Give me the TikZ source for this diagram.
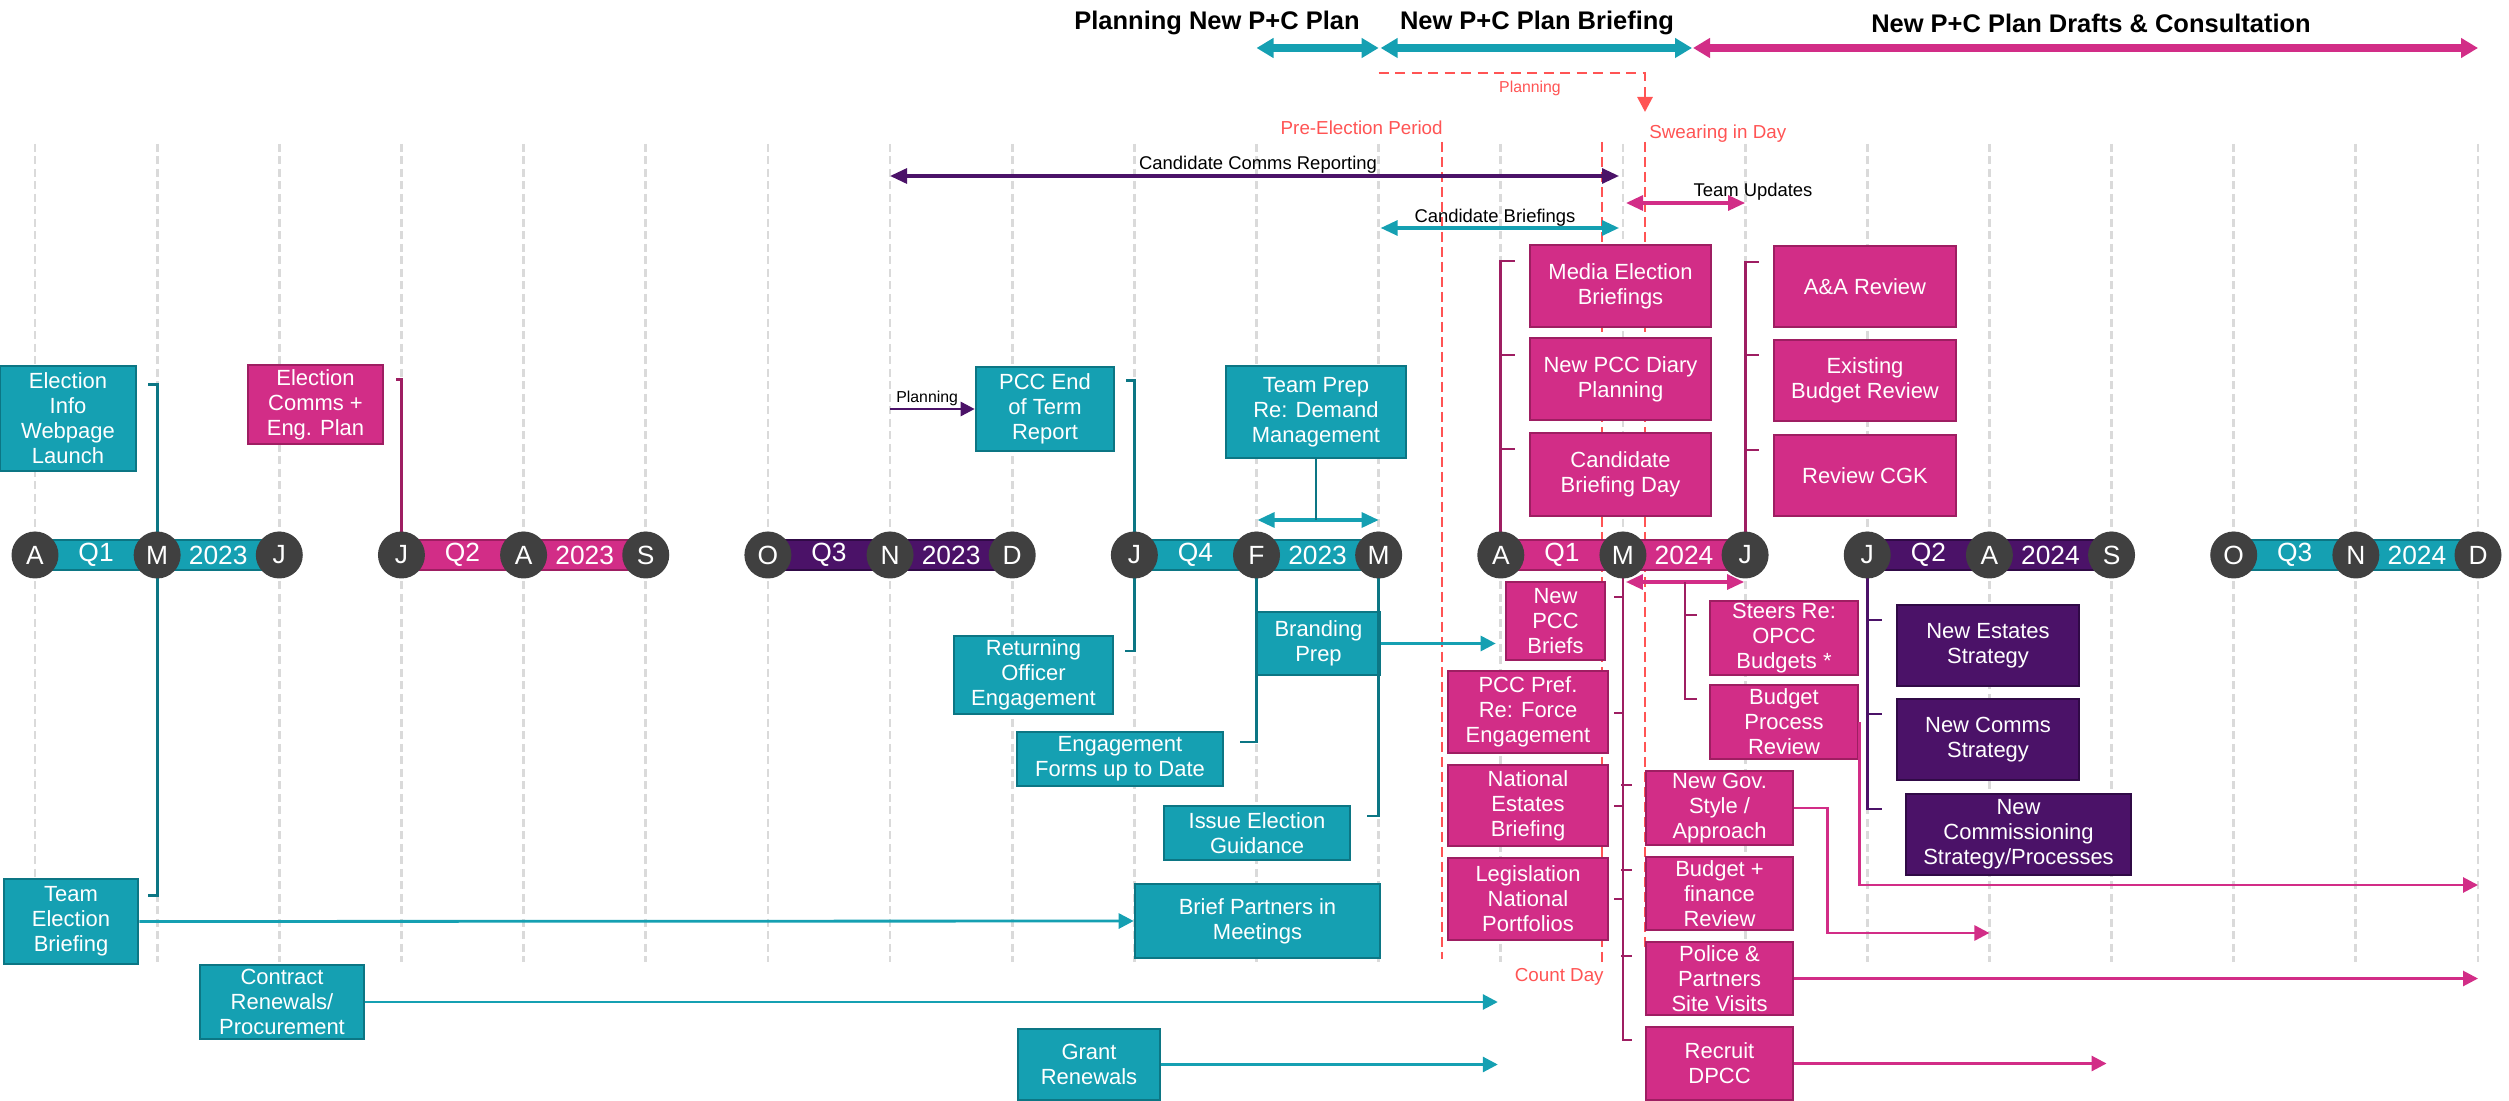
\documentclass[tikz,border=0pt]{standalone}
\usepackage{fontspec}
\setmainfont{Liberation Sans}
\usetikzlibrary{arrows.meta,calc}

\definecolor{tealc}{RGB}{21,160,178}
\definecolor{tealdk}{RGB}{12,118,132}
\definecolor{magc}{RGB}{210,45,135}
\definecolor{magdk}{RGB}{158,30,98}
\definecolor{purc}{RGB}{75,18,104}
\definecolor{purdk}{RGB}{48,10,70}
\definecolor{redc}{RGB}{255,84,84}
\definecolor{gridc}{RGB}{218,218,218}
\definecolor{circc}{RGB}{64,64,64}

\newcommand{\boxfont}{\fontsize{12.5}{14.2}\selectfont}
\newcommand{\lblfont}{\fontsize{10.5}{12}\selectfont}
\newcommand{\tinyfont}{\fontsize{9}{10}\selectfont}
\newcommand{\redfont}{\fontsize{10.7}{12}\selectfont}
\newcommand{\monthfont}{\fontsize{15}{17}\selectfont}
\newcommand{\headfont}{\fontsize{14.5}{17}\selectfont\bfseries}

\begin{document}
\begin{tikzpicture}[x=0.02cm,y=-0.02cm,
    tbox/.style={draw=tealdk,fill=tealc,line width=1.5pt,text=white,align=center,inner sep=0pt,font=\boxfont},
    mbox/.style={tbox,draw=magdk,fill=magc},
    pbox/.style={tbox,draw=purdk,fill=purc},
    tlink/.style={draw=tealdk,line width=1.6pt},
    mlink/.style={draw=magdk,line width=1.6pt},
    plink/.style={draw=purc,line width=1.6pt},
    tarr/.style={draw=tealc,line width=1.6pt,-{Triangle[length=0.3cm,width=0.3cm]}},
    marr/.style={draw=magc,line width=1.6pt,-{Triangle[length=0.3cm,width=0.3cm]}},
    parr/.style={draw=purc,line width=1.5pt,-{Triangle[length=0.28cm,width=0.28cm]}},
    spanarr/.style={line width=1.8pt,{Triangle[length=0.34cm,width=0.3cm]}-{Triangle[length=0.34cm,width=0.3cm]}},
    headarr/.style={line width=4pt,{Triangle[length=0.34cm,width=0.38cm]}-{Triangle[length=0.34cm,width=0.38cm]}},
    gridln/.style={draw=gridc,line width=1.6pt,dash pattern=on 0.16cm off 0.09cm},
    redln/.style={draw=redc,line width=1.6pt,dash pattern=on 0.2cm off 0.1cm},
    mcirc/.style={circle,fill=circc,minimum size=0.94cm,inner sep=0pt,text=white,font=\monthfont},
    barlbl/.style={text=white,font=\monthfont,inner sep=0pt},
    lbl/.style={font=\lblfont,inner sep=0pt},
    redlbl/.style={text=redc,font=\redfont,inner sep=0pt},
    htitle/.style={font=\headfont,inner sep=0pt}]

    \useasboundingbox (0,0) rectangle (2509,1101);

    % Months
    \foreach \m [count=\i from 0] in {apr23,may23,jun23,jul23,aug23,sep23,oct23,nov23,dec23,jan24,feb24,mar24,apr24,may24,jun24,jul24,aug24,sep24,oct24,nov24,dec24}
      \coordinate (\m) at ({35+122.15*\i},555);

    % Month grid
    \foreach \m in {apr23,may23,jun23,jul23,aug23,sep23,oct23,nov23,dec23,jan24,feb24,mar24,apr24,may24,jun24,jul24,aug24,sep24,oct24,nov24,dec24}
      \draw[gridln] (\m |- 0,144) -- (\m |- 0,962);

    % Election dates
    \draw[redln] (1442,142) -- (1442,959);
    \draw[redln] (1602,142) -- (1602,962);
    \draw[redln] (1645,142) -- (1645,950);
    \node[redlbl,anchor=base east] (prelbl) at (1443,135) {Pre-Election Period};
    \node[redlbl,anchor=base west] (swearlbl) at (1649,139) {Swearing in Day};
    \node[redlbl,anchor=base east] (countlbl) at (1604,981) {Count Day};
    \draw[redln,dash pattern=on 0.2cm off 0.13cm,-{Triangle[length=0.3cm,width=0.3cm]}] (mar24 |- 0,73) -- (1645,73) -- (1645,112);
    \node[redlbl,font=\tinyfont,anchor=base] (planlbl) at (1530,93) {Planning};

    % Headline phases
    \node[htitle] (plantitle) at (1217,23) {Planning New P+C Plan};
    \node[htitle] (brieftitle) at (1537,23) {New P+C Plan Briefing};
    \node[htitle] (drafttitle) at (2091,23) {New P+C Plan Drafts \& Consultation};
    \coordinate (hsplit) at (1692,48);
    \draw[headarr,draw=tealc] (feb24 |- hsplit) -- (mar24 |- hsplit);
    \draw[headarr,draw=tealc] ($(mar24 |- hsplit)+(2,0)$) -- (hsplit);
    \draw[headarr,draw=magc] ($(hsplit)+(1,0)$) -- (dec24 |- hsplit);

    % Spans over the election
    \draw[spanarr,draw=purc] (nov23 |- 0,176) -- (1619,176);
    \node[lbl,anchor=base] (commsrep) at (1258,170) {Candidate Comms Reporting};
    \draw[spanarr,draw=tealc] ($(mar24 |- 0,228)+(2,0)$) -- (1619,228);
    \node[lbl,anchor=base] (candbrief) at (1495,223) {Candidate Briefings};
    \draw[spanarr,draw=magc] (1626,203) -- (jun24 |- 0,203);
    \node[lbl,anchor=base] (teamupd) at (1753,197) {Team Updates};

    % Q1 2023
    \node[tbox,minimum width=2.72cm,minimum height=2.1cm] (webinfo) at (68,418.5) {Election\\Info\\Webpage\\Launch};
    \node[tbox,minimum width=2.68cm,minimum height=1.7cm] (teambrief) at (71,921.5) {Team\\Election\\Briefing};
    \node[tbox,minimum width=3.28cm,minimum height=1.48cm] (contract) at (282,1002) {Contract\\Renewals/\\Procurement};

    % Q2 2023
    \node[mbox,minimum width=2.7cm,minimum height=1.58cm] (commsplan) at (315.5,404.5) {Election\\Comms +\\Eng. Plan};

    % Q3 / Q4 2023
    \node[tbox,minimum width=2.76cm,minimum height=1.68cm] (endterm) at (1045,409) {PCC End\\of Term\\Report};
    \node[tbox,minimum width=3.18cm,minimum height=1.56cm] (retoff) at (1033.5,675) {Returning\\Officer\\Engagement};
    \node[tbox,minimum width=4.12cm,minimum height=1.08cm] (engforms) at (1120,759) {Engagement\\Forms up to Date};
    \node[tbox,minimum width=3.72cm,minimum height=1.08cm] (guidance) at (1257,833) {Issue Election\\Guidance};
    \node[tbox,minimum width=4.9cm,minimum height=1.48cm] (partners) at (1257.5,921) {Brief Partners in\\Meetings};
    \node[tbox,minimum width=2.84cm,minimum height=1.42cm] (grants) at (1089,1064.5) {Grant\\Renewals};
    \node[tbox,minimum width=3.6cm,minimum height=1.84cm] (teamprep) at (1316,412) {Team Prep\\Re: Demand\\Management};
    \node[tbox,minimum width=2.46cm,minimum height=1.26cm] (branding) at (1318.5,643.5) {Branding\\Prep};

    % Q1 2024 (above)
    \node[mbox,minimum width=3.62cm,minimum height=1.64cm] (mediabrief) at (1620.5,286) {Media Election\\Briefings};
    \node[mbox,minimum width=3.62cm,minimum height=1.64cm] (diary) at (1620.5,379) {New PCC Diary\\Planning};
    \node[mbox,minimum width=3.62cm,minimum height=1.66cm] (candday) at (1620.5,474.5) {Candidate\\Briefing Day};
    \node[mbox,minimum width=3.64cm,minimum height=1.62cm] (aareview) at (1865,286.5) {A\&A Review};
    \node[mbox,minimum width=3.64cm,minimum height=1.62cm] (budgetrev) at (1865,380.5) {Existing\\Budget Review};
    \node[mbox,minimum width=3.64cm,minimum height=1.62cm] (cgk) at (1865,475.5) {Review CGK};

    % Q1 2024 (below)
    \node[mbox,minimum width=1.98cm,minimum height=1.56cm] (pccbriefs) at (1555.5,621) {New\\PCC\\Briefs};
    \node[mbox,minimum width=3.2cm,minimum height=1.64cm] (forceeng) at (1528,712) {PCC Pref.\\Re: Force\\Engagement};
    \node[mbox,minimum width=3.2cm,minimum height=1.62cm] (estbrief) at (1528,805.5) {National\\Estates\\Briefing};
    \node[mbox,minimum width=3.2cm,minimum height=1.64cm] (legis) at (1528,899) {Legislation\\National\\Portfolios};
    \node[mbox,minimum width=2.96cm,minimum height=1.48cm] (steers) at (1784,638) {Steers Re:\\OPCC\\Budgets *};
    \node[mbox,minimum width=2.96cm,minimum height=1.48cm] (process) at (1784,722) {Budget\\Process\\Review};
    \node[mbox,minimum width=2.94cm,minimum height=1.48cm] (govstyle) at (1719.5,808) {New Gov.\\Style /\\Approach};
    \node[mbox,minimum width=2.94cm,minimum height=1.46cm] (finance) at (1719.5,893.5) {Budget +\\finance\\Review};
    \node[mbox,minimum width=2.94cm,minimum height=1.46cm] (visits) at (1719.5,978.5) {Police \&\\Partners\\Site Visits};
    \node[mbox,minimum width=2.94cm,minimum height=1.46cm] (dpcc) at (1719.5,1063.5) {Recruit\\DPCC};

    % Q2 2024
    \node[pbox,minimum width=3.64cm,minimum height=1.62cm] (estates) at (1988,645.5) {New Estates\\Strategy};
    \node[pbox,minimum width=3.64cm,minimum height=1.62cm] (commsstrat) at (1988,739.5) {New Comms\\Strategy};
    \node[pbox,minimum width=4.5cm,minimum height=1.62cm] (commission) at (2018.5,834.5) {New\\Commissioning\\Strategy/Processes};

    % Brackets 2023
    \draw[tlink] ([shift={(11,20)}]webinfo.north east) -| (may23) |- ([shift={(9,-26)}]teambrief.east);
    \draw[mlink] ([shift={(12,16)}]commsplan.north east) -| (jul23);
    \draw[tlink] ([shift={(11,15)}]endterm.north east) -| (jan24) |- ([shift={(11,-24)}]retoff.east);
    \draw[tlink] (feb24) |- ([shift={(16,-17)}]engforms.east);
    \draw[tlink] (mar24) |- ([shift={(16,-17)}]guidance.east);
    \coordinate (prepl) at ($(feb24)+(1,-35)$);
    \coordinate (prepr) at ($(mar24)+(0,-35)$);
    \draw[spanarr,draw=tealc] (prepl) -- (prepr);
    \draw[tlink] (teamprep.south) -- (teamprep.south |- prepl);
    \draw[parr] (endterm.west -| nov23) -- (endterm.west);
    \node[lbl,font=\tinyfont,anchor=base west] (planning) at (896,403) {Planning};

    % Teal arrows
    \draw[tarr] (teambrief.east) -- (partners.west);
    \draw[tarr] (contract.east) -- ($(contract.east -| apr24)+(-3,0)$);
    \draw[tarr] (grants.east) -- ($(grants.east -| apr24)+(-3,0)$);
    \draw[tarr] (branding.east) -- ($(pccbriefs.west |- branding.east)+(-9,0)$);

    % Brackets Q1 2024
    \draw[mlink] ([shift={(-14,-25)}]mediabrief.west) -| (apr24);
    \draw[mlink] ([shift={(-14,-24)}]diary.west) -- +(-15,0);
    \draw[mlink] ([shift={(-14,-25.5)}]candday.west) -- +(-15,0);
    \draw[mlink] ([shift={(-14,-24.5)}]aareview.west) -| (jun24);
    \draw[mlink] ([shift={(-14,-25.5)}]budgetrev.west) -- +(-14,0);
    \draw[mlink] ([shift={(-14,-25.5)}]cgk.west) -- +(-14,0);

    % May 2024 spine
    \draw[mlink] (may24) |- ([shift={(-13,-23.5)}]dpcc.west);
    \draw[mlink] ([shift={(8,-24)}]pccbriefs.east) -- +(9,0);
    \draw[mlink] ([shift={(5,1)}]forceeng.east) -- +(9,0);
    \draw[mlink] ([shift={(5,0.5)}]estbrief.east) -- +(9,0);
    \draw[mlink] ([shift={(5,0)}]legis.east) -- +(9,0);
    \draw[mlink] ([shift={(-13,-23)}]govstyle.west) -- +(-11,0);
    \draw[mlink] ([shift={(-13,-23.5)}]finance.west) -- +(-11,0);
    \draw[mlink] ([shift={(-13,-22.5)}]visits.west) -- +(-11,0);

    % Budget steers span
    \coordinate (budl) at ($(may24)+(3,27)$);
    \coordinate (budr) at ($(jun24)+(-1,27)$);
    \draw[spanarr,draw=magc] (budl) -- (budr);
    \coordinate (budmid) at ($(budl)!0.5!(budr)$);
    \draw[mlink] (budmid) |- ([shift={(-12,-23)}]process.west);
    \draw[mlink] ([shift={(-12,-23)}]steers.west) -- +(-12,0);

    % Magenta arrows
    \draw[marr] (process.east) |- (dec24 |- 0,885);
    \draw[marr] (govstyle.east) -- ++(33,0) |- (aug24 |- 0,933);
    \draw[marr] (visits.east) -- (visits.east -| dec24);
    \draw[marr] (dpcc.east) -- ($(dpcc.east -| sep24)+(-5,0)$);

    % Bracket Q2 2024
    \draw[plink] (jul24) |- ([shift={(-23,-25.5)}]commission.west);
    \draw[plink] ([shift={(-14,-25.5)}]estates.west) -- +(-14,0);
    \draw[plink] ([shift={(-14,-25.5)}]commsstrat.west) -- +(-14,0);

    % Quarter bars
    \foreach \ma/\mb/\mc/\q/\yr/\fc/\dc in {apr23/may23/jun23/Q1/2023/tealc/tealdk,
        jul23/aug23/sep23/Q2/2023/magc/magdk,
        oct23/nov23/dec23/Q3/2023/purc/purdk,
        jan24/feb24/mar24/Q4/2023/tealc/tealdk,
        apr24/may24/jun24/Q1/2024/magc/magdk,
        jul24/aug24/sep24/Q2/2024/purc/purdk,
        oct24/nov24/dec24/Q3/2024/tealc/tealdk} {
      \draw[fill=\fc,draw=\dc,line width=1.2pt] ($(\ma)+(0,-15)$) rectangle ($(\mc)+(0,15)$);
      \node[barlbl] (q-\ma) at ($(\ma)!0.5!(\mb)$) {\q};
      \node[barlbl] (y-\ma) at ($(\mb)!0.5!(\mc)$) {\yr};
    }

    % Month circles
    \foreach \m/\l in {apr23/A,may23/M,jun23/J,jul23/J,aug23/A,sep23/S,oct23/O,nov23/N,dec23/D,jan24/J,feb24/F,mar24/M,apr24/A,may24/M,jun24/J,jul24/J,aug24/A,sep24/S,oct24/O,nov24/N,dec24/D}
      \node[mcirc] (c-\m) at (\m) {\l};
\end{tikzpicture}
\end{document}
